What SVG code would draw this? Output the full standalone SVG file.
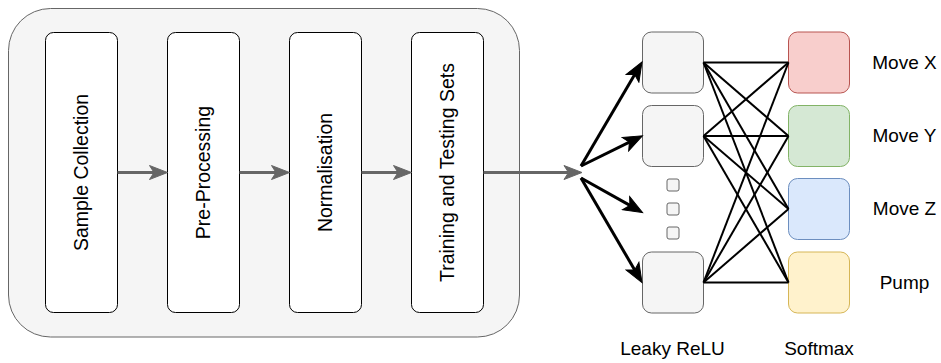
<svg xmlns="http://www.w3.org/2000/svg" width="941" height="363" viewBox="0 0 941 363">
  <style>
    .stage { fill: #ffffff; stroke: #000000; stroke-width: 1; }
    .panel { fill: #f5f5f5; stroke: #666666; stroke-width: 1; }
    .neuron { fill: #f5f5f5; stroke: #666666; stroke-width: 1; }
    .lbl { font-family: "Liberation Sans", Arial, Helvetica, sans-serif; fill: #000000; }
    .vlbl { font-size: 19.5px; text-anchor: middle; }
    .side { font-size: 19px; text-anchor: middle; }
    .flow { fill: none; stroke: #666666; stroke-width: 3; marker-end: url(#headGray); }
    .fan { fill: none; stroke: #000000; stroke-width: 3; marker-end: url(#headBlack); }
    .dense { fill: none; stroke: #000000; stroke-width: 2; }
  </style>
  <defs>
    <marker id="headGray" viewBox="-1 -1 20 16" markerWidth="20" markerHeight="16" refX="4.5" refY="7" orient="auto" markerUnits="userSpaceOnUse">
      <path d="M0,0 L18,7 L0,14 L4.5,7 Z" fill="#666666" stroke="#666666" stroke-width="1" stroke-linejoin="miter"/>
    </marker>
    <marker id="headBlack" viewBox="-1 -1 22 17" markerWidth="22" markerHeight="17" refX="4.5" refY="7.5" orient="auto" markerUnits="userSpaceOnUse">
      <path d="M0,0 L19,7.5 L0,15 L4.5,7.5 Z" fill="#000000" stroke="#000000" stroke-width="1" stroke-linejoin="miter"/>
    </marker>
  </defs>

  <!-- data pipeline container -->
  <g id="pipeline">
    <rect class="panel" x="8.5" y="8.5" width="511" height="328.5" rx="42" ry="42"/>
  </g>

  <g id="sample-collection">
    <rect class="stage" x="45.5" y="32.5" width="72" height="280" rx="8" ry="8"/>
    <text class="lbl vlbl" x="81.5" y="179.4" transform="rotate(-90 81.5 172.5)">Sample Collection</text>
  </g>
  <g id="pre-processing">
    <rect class="stage" x="167.5" y="32.5" width="72" height="280" rx="8" ry="8"/>
    <text class="lbl vlbl" x="203.5" y="179.4" transform="rotate(-90 203.5 172.5)">Pre-Processing</text>
  </g>
  <g id="normalisation">
    <rect class="stage" x="289.5" y="32.5" width="72" height="280" rx="8" ry="8"/>
    <text class="lbl vlbl" x="325.5" y="179.4" transform="rotate(-90 325.5 172.5)">Normalisation</text>
  </g>
  <g id="train-test-sets">
    <rect class="stage" x="411.5" y="32.5" width="72" height="280" rx="8" ry="8"/>
    <text class="lbl vlbl" x="447.5" y="179.4" transform="rotate(-90 447.5 172.5)">Training and Testing Sets</text>
  </g>

  <!-- hidden layer (Leaky ReLU) -->
  <g id="hidden-1"><rect class="neuron" x="642.5" y="32" width="61" height="61" rx="9" ry="9"/></g>
  <g id="hidden-2"><rect class="neuron" x="642.5" y="105.5" width="61" height="61" rx="9" ry="9"/></g>
  <g id="hidden-ellipsis">
    <rect class="neuron" x="667" y="179" width="12" height="12" rx="2" ry="2"/>
    <rect class="neuron" x="667" y="203" width="12" height="12" rx="2" ry="2"/>
    <rect class="neuron" x="667" y="227" width="12" height="12" rx="2" ry="2"/>
  </g>
  <g id="hidden-n"><rect class="neuron" x="642.5" y="252" width="61" height="61" rx="9" ry="9"/></g>

  <!-- output layer (Softmax) -->
  <g id="out-move-x">
    <rect x="788.5" y="32" width="61" height="61" rx="9" ry="9" fill="#f8cecc" stroke="#b85450"/>
    <text class="lbl side" x="904.5" y="68.8">Move X</text>
  </g>
  <g id="out-move-y">
    <rect x="788.5" y="105.5" width="61" height="61" rx="9" ry="9" fill="#d5e8d4" stroke="#82b366"/>
    <text class="lbl side" x="904.5" y="142.3">Move Y</text>
  </g>
  <g id="out-move-z">
    <rect x="788.5" y="178.5" width="61" height="61" rx="9" ry="9" fill="#dae8fc" stroke="#6c8ebf"/>
    <text class="lbl side" x="904.5" y="215.3">Move Z</text>
  </g>
  <g id="out-pump">
    <rect x="788.5" y="252" width="61" height="61" rx="9" ry="9" fill="#fff2cc" stroke="#d6b656"/>
    <text class="lbl side" x="904.5" y="288.8">Pump</text>
  </g>

  <!-- layer captions -->
  <g id="caption-hidden"><text class="lbl side" x="672.5" y="355">Leaky ReLU</text></g>
  <g id="caption-output"><text class="lbl side" x="819" y="355">Softmax</text></g>

  <g id="connectors">
    <!-- pipeline flow -->
    <line class="flow" x1="117.5" y1="172.5" x2="154" y2="172.5"/>
    <line class="flow" x1="239.5" y1="172.5" x2="276" y2="172.5"/>
    <line class="flow" x1="361.5" y1="172.5" x2="398" y2="172.5"/>
    <line class="flow" x1="483.5" y1="172.5" x2="568.5" y2="172.5"/>
    <!-- fan-out into hidden layer -->
    <line class="fan" x1="581" y1="166" x2="634.7" y2="74.5"/>
    <line class="fan" x1="581" y1="166" x2="629.4" y2="142.2"/>
    <line class="fan" x1="581" y1="178" x2="629.9" y2="205.4"/>
    <line class="fan" x1="581" y1="178" x2="634.7" y2="270.0"/>
    <!-- dense connections hidden -> output -->
    <line class="dense" x1="703.5" y1="62.5" x2="788.5" y2="62.5"/>
    <line class="dense" x1="703.5" y1="62.5" x2="788.5" y2="136"/>
    <line class="dense" x1="703.5" y1="62.5" x2="788.5" y2="209"/>
    <line class="dense" x1="703.5" y1="62.5" x2="788.5" y2="282.5"/>
    <line class="dense" x1="703.5" y1="136" x2="788.5" y2="62.5"/>
    <line class="dense" x1="703.5" y1="136" x2="788.5" y2="136"/>
    <line class="dense" x1="703.5" y1="136" x2="788.5" y2="209"/>
    <line class="dense" x1="703.5" y1="136" x2="788.5" y2="282.5"/>
    <line class="dense" x1="703.5" y1="282.5" x2="788.5" y2="62.5"/>
    <line class="dense" x1="703.5" y1="282.5" x2="788.5" y2="136"/>
    <line class="dense" x1="703.5" y1="282.5" x2="788.5" y2="209"/>
    <line class="dense" x1="703.5" y1="282.5" x2="788.5" y2="282.5"/>
  </g>
</svg>
